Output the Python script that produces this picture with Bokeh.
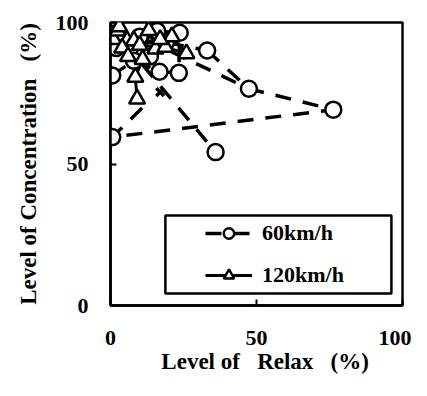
from bokeh.plotting import figure
from bokeh.models import FixedTicker, Legend, LegendItem, BoxAnnotation, Range1d
from bokeh.embed import file_html
from bokeh.resources import INLINE

nan = float("nan")

# ---- data ----
# 60 km/h (circles, dashed paths)
c60_x = [0.6, 0.6, 36.0, 47.4, 76.3, 33.1, 23.7, 23.4, 16.8, 1.0, 3.5, 6.5, 10.0, 13.5, 19.0, 8.0, 2.0, 16.0]
c60_y = [59.5, 81.3, 54.2, 76.6, 69.2, 90.1, 96.4, 82.2, 82.6, 96.0, 93.0, 90.0, 95.0, 88.0, 93.0, 86.5, 91.0, 97.0]
l60_x = [33.1, 47.4, 76.3, 0.6, 12.0, nan, 12.0, 47.4, nan, 11.0, 36.0, nan,
         0.6, 8.0, 16.8, 23.4, 23.7, 10.0, 1.0, nan, 3.5, 13.5, 19.0, 33.1, nan,
         2.0, 6.5, 16.0, 23.7]
l60_y = [90.1, 76.6, 69.2, 59.5, 71.0, nan, 94.0, 76.6, nan, 85.0, 54.2, nan,
         81.3, 86.5, 82.6, 82.2, 96.4, 95.0, 96.0, nan, 93.0, 88.0, 93.0, 90.1, nan,
         91.0, 90.0, 97.0, 96.4]

# 120 km/h (triangles, solid paths)
t120_x = [1.0, 2.5, 5.7, 8.0, 13.1, 15.4, 18.8, 26.0, 8.5, 9.1, 11.0, 4.0, 21.0, 6.0, 10.0, 17.0, 3.0]
t120_y = [94.0, 97.0, 93.6, 93.6, 97.2, 90.7, 91.3, 89.0, 80.7, 73.0, 87.0, 91.0, 95.0, 88.0, 92.0, 94.0, 98.5]
l120_x = [9.1, 8.5, 11.0, 15.4, 18.8, 26.0, nan, 1.0, 5.7, 8.0, 13.1, 21.0, 26.0, nan,
          2.5, 4.0, 6.0, 11.0, nan, 13.1, 15.4, nan, 3.0, 10.0, 17.0, 21.0, nan,
          1.0, 2.5, 8.0, 10.0, 18.8]
l120_y = [73.0, 80.7, 87.0, 90.7, 91.3, 89.0, nan, 94.0, 93.6, 93.6, 97.2, 95.0, 89.0, nan,
          97.0, 91.0, 88.0, 87.0, nan, 97.2, 90.7, nan, 98.5, 92.0, 94.0, 95.0, nan,
          94.0, 97.0, 93.6, 92.0, 91.3]

# extra cross mark
xm_x = [17.0]
xm_y = [75.4]

ticks = [0, 50, 100]
x_title = "\u00a0\u00a0\u00a0Level of\u00a0 \u00a0Relax\u00a0 \u00a0(%)"
y_title = "Level of Concentration\u00a0 \u00a0(%)"
labels = ["60km/h", "120km/h"]

FONT = "Liberation Serif"

p = figure(width=411, height=380, output_backend="svg", toolbar_location=None,
           x_range=Range1d(0, 100), y_range=Range1d(0, 100),
           min_border_left=110, min_border_right=9, min_border_top=22, min_border_bottom=75)

p.grid.visible = False
p.outline_line_color = "black"
p.outline_line_width = 2.5
p.background_fill_color = "white"
p.border_fill_color = "white"

for ax in (p.xaxis[0], p.yaxis[0]):
    ax.ticker = FixedTicker(ticks=ticks)
    ax.minor_tick_line_color = None
    ax.major_tick_in = 6
    ax.major_tick_out = 0
    ax.major_tick_line_width = 2
    ax.axis_line_width = 2.5
    ax.axis_line_color = "black"
    ax.major_label_text_font = FONT
    ax.major_label_text_font_style = "bold"
    ax.major_label_text_font_size = "22px"
    ax.major_label_text_color = "black"
    ax.axis_label_text_font = FONT
    ax.axis_label_text_font_style = "bold"
    ax.axis_label_text_color = "black"

p.xaxis.axis_label = x_title
p.yaxis.axis_label = y_title
p.xaxis.axis_label_text_font_size = "23px"
p.yaxis.axis_label_text_font_size = "23px"
p.xaxis.major_label_standoff = 25
p.xaxis.axis_label_standoff = 1
p.yaxis.major_label_standoff = 22
p.yaxis.axis_label_standoff = 12

line60 = p.line(l60_x, l60_y, line_color="black", line_width=3.5, line_dash="16 12")
line120 = p.line(l120_x, l120_y, line_color="black", line_width=3)
circ60 = p.scatter(c60_x, c60_y, marker="circle", size=16, fill_color="white",
                   line_color="black", line_width=2.5)
tri120 = p.scatter(t120_x, t120_y, marker="triangle", size=16, fill_color="white",
                   line_color="black", line_width=2.5)
p.scatter(xm_x, xm_y, marker="x", size=11, line_color="black", line_width=3.5)

# legend frame
box = BoxAnnotation(left=18.8, right=96.2, bottom=4.2, top=31.8,
                    fill_color="white", fill_alpha=1.0, line_color="black",
                    line_width=2.5, line_alpha=1.0)
p.add_layout(box)

legend = Legend(items=[LegendItem(label=labels[0], renderers=[line60, circ60]),
                       LegendItem(label=labels[1], renderers=[line120, tri120])],
                location=(95, 17), padding=0, margin=0, spacing=16,
                glyph_width=47, glyph_height=26, label_height=26, label_standoff=10,
                border_line_alpha=0, background_fill_alpha=0,
                label_text_font=FONT, label_text_font_style="bold",
                label_text_font_size="22px", label_text_color="black")
p.add_layout(legend)

open("out.html", "w").write(file_html(p, INLINE))
